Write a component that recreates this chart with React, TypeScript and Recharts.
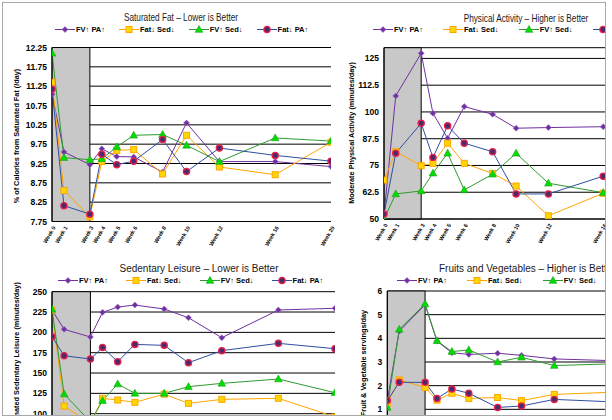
import React from 'react';
import { LineChart, Line, XAxis, YAxis, CartesianGrid, ReferenceArea } from 'recharts';

const FONT = '"Liberation Sans", Arial, Helvetica, sans-serif';

// visit positions on the time axis (days from baseline) and their labels
const visitDays = [0, 6, 19, 25, 32.5, 41, 55.5, 67.5, 84, 112, 140];
const visitLabels = ['Week 0', 'Week 1', 'Week 3', 'Week 4', 'Week 5', 'Week 6', 'Week 8', 'Week 10', 'Week 12', 'Week 16', 'Week 20'];
const interventionEnd = 19;

const groupNames = ['FV\u2191  PA\u2191', 'Fat\u2193 Sed\u2193', 'FV\u2191 Sed\u2193', 'Fat\u2193  PA\u2191'];

// Saturated fat (% of calories)
const satFatTicks = [7.75, 8.25, 8.75, 9.25, 9.75, 10.25, 10.75, 11.25, 11.75, 12.25];
const satFvPa = [11.04, 9.55, 9.22, 9.63, 9.43, 9.42, 9.03, 10.3, 9.3, 9.3, 9.17];
const satFatSed = [11.35, 8.55, 7.87, 9.3, 9.59, 9.61, 8.98, 9.98, 9.16, 8.96, 9.8];
const satFvSed = [12.1, 9.4, 9.35, 9.37, 9.68, 9.98, 10.0, 9.72, 9.3, 9.91, 9.83];
const satFatPa = [11.17, 8.16, 7.94, 9.49, 9.22, 9.31, 9.87, 9.04, 9.65, 9.46, 9.31];

// Physical activity (minutes/day)
const paTicks = [50, 62.5, 75, 87.5, 100, 112.5, 125];
const paFvPa = [52, 107.5, 127.4, 99.4, 87.7, 102.5, 98.9, 92.4, 92.7, 93.1, null];
const paFatSed = [68.2, 81.4, 74.9, 76, 85.4, 76, 71.3, 65.4, 51.5, 62, null];
const paFvSed = [50, 61.7, 63.1, 71.4, 80.7, 63.6, 70.9, 80.7, 66.7, 62.3, null];
const paFatPa = [52.3, 80.7, 94.7, 78.7, 93.5, 85.4, 81.4, 61.7, 61.7, 70, null];

// Sedentary leisure (minutes/day)
const sedTicks = [0, 25, 50, 75, 100, 125, 150, 175, 200, 225, 250];
const sedFvPa = [227.5, 203.7, 194.3, 224.6, 231.1, 233.6, 228.7, 218, 193.4, 227.5, 229.6];
const sedFatSed = [227.5, 109.4, 88, 118.9, 116.8, 114, 124, 112.7, 117.6, 118.9, 96];
const sedFvSed = [228.3, 124.2, 90, 116, 136.5, 125, 125, 133.2, 137.3, 142.6, 125.8];
const sedFatPa = [194.7, 171.3, 167.2, 181.5, 163.9, 185.2, 184, 162.7, 177.5, 186.5, 179.9];

// Fruit & vegetable servings/day
const fvTicks = [0, 1, 2, 3, 4, 5, 6];
const fvFvPa = [1.37, 4.3, 5.42, 3.88, 3.39, 3.32, 3.37, 3.28, 3.13, 3.06, null];
const fvFatSed = [1.25, 2.24, 1.93, 1.39, 1.68, 1.46, 1.5, 1.37, 1.63, 1.72, null];
const fvFvSed = [1.08, 4.38, 5.45, 3.9, 3.44, 3.51, 3.0, 3.2, 2.85, 2.92, null];
const fvFatPa = [1.37, 2.14, 2.14, 1.46, 1.86, 1.68, 1.08, 1.14, 1.42, 1.32, null];

const makeRows = (a: any[], b: any[], c: any[], d: any[]) =>
  visitDays.map((t, i) => ({ t, fvPa: a[i], fatSed: b[i], fvSed: c[i], fatPa: d[i] }));

const STYLES = [
  { key: 'fvPa', stroke: '#7030A0', marker: 'diamond' },
  { key: 'fatSed', stroke: '#FFA500', marker: 'square' },
  { key: 'fvSed', stroke: '#2E9B2E', marker: 'triangle' },
  { key: 'fatPa', stroke: '#2F4F9F', marker: 'circle' },
];

function Marker({ kind, cx, cy }: any) {
  if (kind === 'diamond')
    return <path d={`M${cx},${cy - 3}L${cx + 3},${cy}L${cx},${cy + 3}L${cx - 3},${cy}Z`} fill="#7030A0" stroke="#A070C8" strokeWidth={0.6} />;
  if (kind === 'square')
    return <rect x={cx - 3} y={cy - 3} width={6} height={6} fill="#FFD700" stroke="#FFA500" strokeWidth={1} />;
  if (kind === 'triangle')
    return <path d={`M${cx},${cy - 4}L${cx + 3.8},${cy + 2.8}L${cx - 3.8},${cy + 2.8}Z`} fill="#00DD00" stroke="#1F9F1F" strokeWidth={0.6} />;
  return <circle cx={cx} cy={cy} r={3.1} fill="#4A2A6A" stroke="#E8204C" strokeWidth={1.3} />;
}

const renderLines = () =>
  STYLES.map((s) => (
    <Line
      key={s.key}
      type="linear"
      dataKey={s.key}
      stroke={s.stroke}
      strokeWidth={1}
      isAnimationActive={false}
      activeDot={false}
      dot={(p: any) =>
        p.value == null || p.cx == null ? <g key={p.index} /> : <Marker key={p.index} kind={s.marker} cx={p.cx} cy={p.cy} />
      }
    />
  ));

const WeekTick = (p: any) => {
  const { x, y, payload } = p;
  const label = visitLabels[visitDays.indexOf(payload.value)];
  return (
    <text x={x + 2} y={y} transform={`rotate(-60 ${x + 2} ${y})`} textAnchor="end" dominantBaseline="central"
      fontFamily={FONT} fontSize={5.5} fontWeight="bold" fill="#000">
      {label}
    </text>
  );
};

function LegendRow({ left, top, gap }: any) {
  return (
    <div style={{ position: 'absolute', left, top, display: 'flex', gap, alignItems: 'center', whiteSpace: 'nowrap' }}>
      {STYLES.map((s, i) => (
        <div key={s.key} style={{ display: 'flex', alignItems: 'center' }}>
          <svg width={20} height={9} style={{ display: 'block' }}>
            <line x1={0} y1={4.5} x2={20} y2={4.5} stroke={s.stroke} strokeWidth={1} />
            <Marker kind={s.marker} cx={10} cy={4.5} />
          </svg>
          <span style={{ fontFamily: FONT, fontSize: 7.5, fontWeight: 'bold', color: '#000', marginLeft: 1, lineHeight: '9px' }}>
            {groupNames[i]}
          </span>
        </div>
      ))}
    </div>
  );
}

function VLabel({ x, y, text }: any) {
  return (
    <div style={{ position: 'absolute', left: x, top: y, transform: 'translate(-50%, -50%) rotate(-90deg)', whiteSpace: 'nowrap',
      fontFamily: FONT, fontSize: 7.3, fontWeight: 'bold', color: '#000', lineHeight: '8px' }}>
      {text}
    </div>
  );
}

function Title({ x, y, text, narrow, anchor }: any) {
  const tx = anchor === 'start' ? 'translate(0, -50%)' : 'translate(-50%, -50%)';
  return (
    <div style={{ position: 'absolute', left: x, top: y, transform: narrow ? `${tx} scaleX(0.75)` : tx, transformOrigin: anchor === 'start' ? 'left center' : 'center',
      whiteSpace: 'nowrap', fontFamily: FONT, fontSize: narrow ? 11 : 10, color: '#1a1a1a', lineHeight: '12px' }}>
      {text}
    </div>
  );
}

function Panel({ box, width, height, margin, yWidth, xHeight, hideX, yDomain, yTicks, rows }: any) {
  return (
    <div style={{ position: 'absolute', left: box[0], top: box[1], width: box[2], height: box[3], overflow: 'hidden' }}>
      <LineChart width={width} height={height} data={rows} margin={margin}>
        <CartesianGrid vertical={false} stroke="#000" strokeWidth={1} />
        <ReferenceArea x1={0} x2={interventionEnd} fill="#C8C8C8" fillOpacity={1} stroke="#000" strokeWidth={1} />
        <XAxis type="number" dataKey="t" domain={[0, 140]} ticks={visitDays} interval={0} hide={hideX} height={xHeight}
          tick={<WeekTick />} tickLine={false} axisLine={{ stroke: '#000' }} tickSize={3} tickMargin={2} allowDataOverflow />
        <YAxis type="number" domain={yDomain} ticks={yTicks} interval={0} width={yWidth} tickLine={false}
          axisLine={{ stroke: '#000' }} tickSize={3} tickMargin={2} allowDataOverflow
          tick={{ fontSize: 8.5, fontWeight: 'bold', fill: '#000', fontFamily: FONT }} />
        {renderLines()}
      </LineChart>
    </div>
  );
}

export default function App() {
  return (
    <div style={{ position: 'fixed', left: 0, top: 0, width: 612, height: 420, background: '#fff', overflow: 'hidden' }}>
      {/* Saturated fat */}
      <Panel box={[0, 0, 340, 250]} width={340} height={250} margin={{ top: 47.5, right: 9, left: 0, bottom: 0 }}
        yWidth={52} xHeight={28.5} yDomain={[7.75, 12.25]} yTicks={satFatTicks}
        rows={makeRows(satFvPa, satFatSed, satFvSed, satFatPa)} />
      <Title x={181} y={17} text="Saturated Fat – Lower is Better" narrow />
      <LegendRow left={55} top={24.5} gap={14} />
      <VLabel x={17} y={136} text="% of Calories from Saturated Fat (/day)" />

      {/* Physical activity */}
      <Panel box={[340, 0, 265, 250]} width={320} height={250} margin={{ top: 47.7, right: 2, left: 0, bottom: 0 }}
        yWidth={44} xHeight={31} yDomain={[50, 130]} yTicks={paTicks}
        rows={makeRows(paFvPa, paFatSed, paFvSed, paFatPa)} />
      <div style={{ position: 'absolute', left: 340, top: 0, width: 265, height: 250, overflow: 'hidden' }}>
        <Title x={185.5} y={18} text="Physical Activity – Higher is Better" narrow />
        <LegendRow left={33} top={25} gap={20} />
      </div>
      <VLabel x={352} y={133} text="Moderate Physical Activity (minutes/day)" />

      {/* Sedentary leisure */}
      <Panel box={[0, 250, 340, 165]} width={340} height={260} margin={{ top: 41.7, right: 5, left: 0, bottom: 15 }}
        yWidth={52} xHeight={0} hideX yDomain={[0, 250]} yTicks={sedTicks}
        rows={makeRows(sedFvPa, sedFatSed, sedFvSed, sedFatPa)} />
      <Title x={199} y={269} text="Sedentary Leisure – Lower is Better" />
      <LegendRow left={58} top={276} gap={18} />
      <div style={{ position: 'absolute', left: 0, top: 250, width: 60, height: 165, overflow: 'hidden' }}>
        <VLabel x={17} y={107} text="Estimated Sedentary Leisure (minutes/day)" />
      </div>

      {/* Fruits and vegetables */}
      <Panel box={[340, 250, 265, 165]} width={330} height={200} margin={{ top: 41, right: 4.4, left: 0, bottom: 17 }}
        yWidth={47.3} xHeight={0} hideX yDomain={[0, 6]} yTicks={fvTicks}
        rows={makeRows(fvFvPa, fvFatSed, fvFvSed, fvFatPa)} />
      <div style={{ position: 'absolute', left: 340, top: 250, width: 265, height: 165, overflow: 'hidden' }}>
        <Title x={99} y={19} text="Fruits and Vegetables – Higher is Better" anchor="start" />
        <LegendRow left={57} top={26} gap={20} />
        <VLabel x={24} y={113} text="Fruit & Vegetable servings/day" />
      </div>

      <div style={{ position: 'absolute', left: 2, top: 2, width: 604, height: 414, border: '1.5px solid #a8a8a8', boxSizing: 'border-box' }} />
    </div>
  );
}
